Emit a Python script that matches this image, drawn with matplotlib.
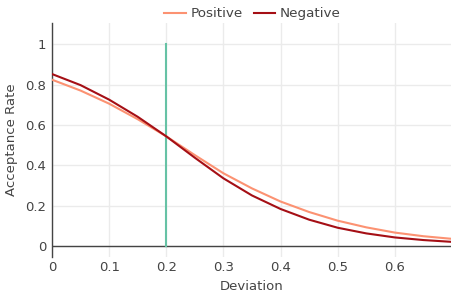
import matplotlib
matplotlib.use("Agg")
import matplotlib.pyplot as plt

plt.rcParams["font.family"] = ["DejaVu Sans"]

deviation = [0.0, 0.05, 0.1, 0.15, 0.2, 0.25, 0.3, 0.35, 0.4, 0.45, 0.5, 0.55, 0.6, 0.65, 0.7]
positive = [0.824, 0.77, 0.705, 0.628, 0.543, 0.45, 0.36, 0.285, 0.22, 0.168, 0.125, 0.092, 0.066, 0.048, 0.035]
negative = [0.852, 0.797, 0.725, 0.64, 0.543, 0.437, 0.335, 0.25, 0.183, 0.13, 0.09, 0.062, 0.042, 0.029, 0.02]
threshold = 0.2
xticks = [0, 0.1, 0.2, 0.3, 0.4, 0.5, 0.6]
xticklabels = ["0", "0.1", "0.2", "0.3", "0.4", "0.5", "0.6"]
yticks = [0, 0.2, 0.4, 0.6, 0.8, 1]
yticklabels = ["0", "0.2", "0.4", "0.6", "0.8", "1"]

TXT = "#444444"
W, H = 452, 297

fig = plt.figure(figsize=(W / 100, H / 100), dpi=100)
ax = fig.add_axes([52 / W, 1 - 257 / H, 400 / W, 234 / H])

ax.set_xlim(0, 0.7)
ax.set_ylim(-0.055, 1.105)
ax.set_xticks(xticks)
ax.set_xticklabels(xticklabels)
ax.set_yticks(yticks)
ax.set_yticklabels(yticklabels)
ax.grid(True, color="#ebebeb", linewidth=1)
ax.set_axisbelow(True)
for s in ["top", "right", "bottom"]:
    ax.spines[s].set_visible(False)
ax.spines["left"].set_color(TXT)
ax.spines["left"].set_linewidth(1)
ax.tick_params(axis="both", length=0, labelsize=9.5, colors=TXT)
ax.tick_params(axis="y", pad=4)
ax.tick_params(axis="x", pad=3)

ax.axhline(0, color=TXT, linewidth=1, zorder=1.5)
ax.plot([threshold, threshold], [0, 1], color="#66c2a5", linewidth=1.5, zorder=2)

l1, = ax.plot(deviation, positive, color="#fc9272", linewidth=1.5, label="Positive", zorder=3)
l2, = ax.plot(deviation, negative, color="#a50f15", linewidth=1.5, label="Negative", zorder=3)

ax.set_xlabel("Deviation", fontsize=9.5, color=TXT, labelpad=4)
ax.set_ylabel("Acceptance Rate", fontsize=9.5, color=TXT, labelpad=5)

fig.legend(handles=[l1, l2], loc="center", bbox_to_anchor=(0.559, 0.953), ncol=2,
           frameon=False, fontsize=9.7, labelcolor=TXT, handlelength=1.6,
           handletextpad=0.35, columnspacing=0.8)

fig.savefig("out.png", dpi=100)
